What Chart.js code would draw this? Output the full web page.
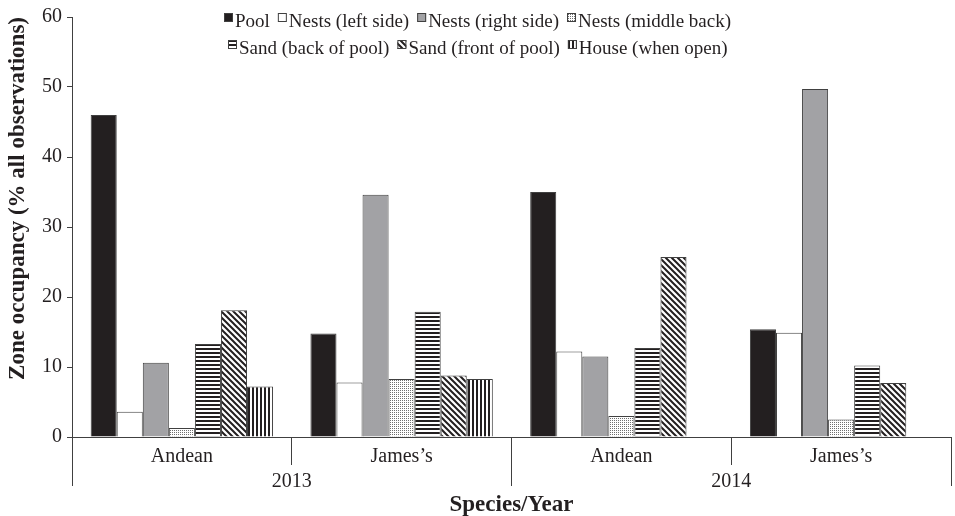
<!DOCTYPE html>
<html>
<head>
<meta charset="utf-8">
<script src="https://cdn.jsdelivr.net/npm/chart.js@4/dist/chart.umd.min.js"></script>
<style>
  html, body { margin: 0; background: #fff; }
  canvas { display: block; }
</style>
</head>
<body>
<canvas id="zones" width="955" height="516"></canvas>
<script>
// species groups on the lower axis row, years on the row beneath
const species = ["Andean", "James’s", "Andean", "James’s"];
const years = ["2013", "2014"];

// zone occupancy, % of all observations, one value per species/year group
const pool       = [46.0, 14.8, 35.0, 15.4];
const nestsLeft  = [3.6, 7.8, 12.2, 14.9];
const nestsRight = [10.6, 34.6, 11.5, 49.7];
const nestsBack  = [1.3, 8.3, 3.0, 2.5];
const sandBack   = [13.3, 17.9, 12.7, 10.2];
const sandFront  = [18.1, 8.8, 25.7, 7.7];
const house      = [7.2, 8.3, 0, 0];

const INK = "#231f20";
const LINE = "#404040";
const SERIF = "'Liberation Serif', 'Times New Roman', serif";

const canvas = document.getElementById("zones");
const ctx = canvas.getContext("2d");

// small repeating tiles used as bar fills
function tile(size, paint) {
  const c = document.createElement("canvas");
  c.width = c.height = size;
  const g = c.getContext("2d");
  g.fillStyle = "#fff";
  g.fillRect(0, 0, size, size);
  g.fillStyle = INK;
  g.strokeStyle = INK;
  paint(g, size);
  return ctx.createPattern(c, "repeat");
}

const dots = tile(2, g => {
  g.fillStyle = "#707070";
  g.fillRect(0, 0, 1, 1);
});
const hLines = tile(4, (g, s) => g.fillRect(0, 0, s, 2));
const vLines = tile(4, (g, s) => g.fillRect(0, 0, 2, s));
const diag = tile(6, (g, s) => {
  g.lineWidth = 2;
  g.beginPath();
  g.moveTo(-1, -1); g.lineTo(s + 1, s + 1);
  g.moveTo(-1, s - 1); g.lineTo(1, s + 1);
  g.moveTo(s - 1, -1); g.lineTo(s + 1, 1);
  g.stroke();
});

function series(label, data, fill) {
  return {
    label,
    data,
    backgroundColor: fill,
    borderColor: LINE,
    borderWidth: 1,
    categoryPercentage: 0.83,
    barPercentage: 1.0,
  };
}

// two-row legend laid over the top of the plot
const zoneLegend = {
  id: "zoneLegend",
  afterDraw(chart) {
    const c = chart.ctx;
    const rows = [[0, 1, 2, 3], [4, 5, 6]];
    const baselines = [27, 54];
    c.save();
    c.font = `19px ${SERIF}`;
    c.textBaseline = "alphabetic";
    rows.forEach((row, r) => {
      const sets = row.map(i => chart.data.datasets[i]);
      const widths = sets.map(ds => 11 + c.measureText(ds.label).width);
      const total = widths.reduce((a, b) => a + b, 0) + 8 * (row.length - 1);
      let x = Math.round(chart.width / 2 - total / 2);
      const y = baselines[r];
      sets.forEach((ds, k) => {
        c.fillStyle = ds.backgroundColor;
        c.fillRect(x, y - 14, 9, 9);
        c.strokeStyle = LINE;
        c.lineWidth = 1;
        c.strokeRect(x + 0.5, y - 13.5, 8, 8);
        c.fillStyle = INK;
        c.fillText(ds.label, x + 11, y);
        x += widths[k] + 8;
      });
    });
    c.restore();
  }
};

const tickFont = { family: SERIF, size: 20 };
const titleFont = { family: SERIF, size: 23, weight: "bold" };

new Chart(ctx, {
  type: "bar",
  data: {
    labels: species,
    datasets: [
      series("Pool", pool, INK),
      series("Nests (left side)", nestsLeft, "#fff"),
      series("Nests (right side)", nestsRight, "#a2a2a5"),
      series("Nests (middle back)", nestsBack, dots),
      series("Sand (back of pool)", sandBack, hLines),
      series("Sand (front of pool)", sandFront, diag),
      series("House (when open)", house, vLines),
    ],
  },
  options: {
    responsive: false,
    animation: false,
    layout: { padding: { top: 13, right: 4, bottom: 0, left: 0 } },
    plugins: { legend: { display: false }, tooltip: { enabled: false } },
    scales: {
      x: {
        offset: true,
        grid: { offset: true, drawOnChartArea: false, tickLength: 28, color: LINE },
        border: { color: LINE },
        ticks: { font: tickFont, color: INK, padding: -20, maxRotation: 0, autoSkip: false },
        afterFit: s => { s.height = 28; },
      },
      x2: {
        type: "category",
        position: "bottom",
        labels: years,
        offset: true,
        grid: { offset: true, drawOnChartArea: false, tickLength: 21, color: LINE },
        border: { display: false },
        ticks: { font: tickFont, color: INK, padding: -16, maxRotation: 0, autoSkip: false },
        title: {
          display: true, text: "Species/Year", font: titleFont, color: INK,
          padding: { top: 0, bottom: -3 },
        },
        afterFit: s => { s.height = 51; },
      },
      y: {
        min: 0,
        max: 60,
        ticks: { stepSize: 10, font: tickFont, color: INK, padding: 5 },
        grid: { drawOnChartArea: false, tickLength: 5, color: LINE },
        border: { color: LINE },
        title: {
          display: true, text: "Zone occupancy (% all observations)", font: titleFont,
          color: INK, align: "end", padding: { top: 4, bottom: 0 },
        },
        afterFit: s => { s.width = 72; },
      },
    },
  },
  plugins: [zoneLegend],
});
</script>
</body>
</html>
